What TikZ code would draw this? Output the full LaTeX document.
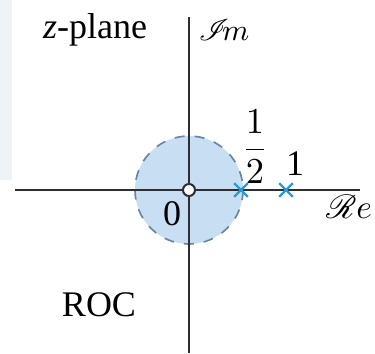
\documentclass[tikz,border=0pt]{standalone}
\usepackage{fontspec}
\setmainfont{Liberation Serif}
\usepackage{amsmath}
\usepackage{mathrsfs}
\usetikzlibrary{shapes.misc, positioning}
\definecolor{axisdark}{RGB}{45,45,50}
\definecolor{rocfill}{RGB}{200,222,242}
\definecolor{rocedge}{RGB}{105,135,165}
\definecolor{polecyan}{RGB}{40,155,215}
\definecolor{scanshade}{RGB}{238,243,248}
\tikzset{
  axis/.style={line width=0.6pt, color=axisdark},
  roc/.style={fill=rocfill, draw=rocedge, dashed, line width=0.5pt},
  pole/.style={cross out, draw=polecyan, line width=0.7pt,
    minimum size=3.4pt, inner sep=0pt},
  zero/.style={circle, draw=axisdark, fill=white, line width=0.6pt,
    minimum size=3.6pt, inner sep=0pt},
  lbl/.style={font=\fontsize{10.8}{13}\selectfont, inner sep=0pt},
  axlbl/.style={font=\fontsize{9}{11}\selectfont, inner sep=0pt}
}

\begin{document}
\begin{tikzpicture}[x=0.3pt, y=-0.3pt]
  \useasboundingbox (0,0) rectangle (375,353);
  \fill[scanshade] (0,0) rectangle (12,180);
  % Axes
  \coordinate (o) at (189,190);
  \coordinate (xl) at (15,190);
  \coordinate (xr) at (360,190);
  \coordinate (yt) at (189,17);
  \coordinate (yb) at (189,353);
  % ROC disc
  \draw[roc] (o) circle[radius=54];
  \draw[axis] (xl) -- (xr);
  \draw[axis] (yt) -- (yb);
  % Zero and poles
  \node[zero] (z0) at (o) {};
  \node[pole] (p1) at (241,190) {};
  \node[pole] (p2) at (286,190) {};
  % Labels
  \node[lbl] (plane) at (95,30) {\textit{z}-plane};
  \node[axlbl] (im) at (224,30) {$\mathscr{I}\mkern-4mu m$};
  \node[lbl, font=\fontsize{10.2}{12}\selectfont] (re) at (349,207) {$\mathscr{R}e$};
  \node[lbl] (half) at (255,147) {$\dfrac{1}{2}$};
  \node[lbl] (one) at (295,164) {1};
  \node[lbl] (zlbl) at (172,214) {0};
  \node[lbl] (roclbl) at (99,305) {ROC};
\end{tikzpicture}
\end{document}
